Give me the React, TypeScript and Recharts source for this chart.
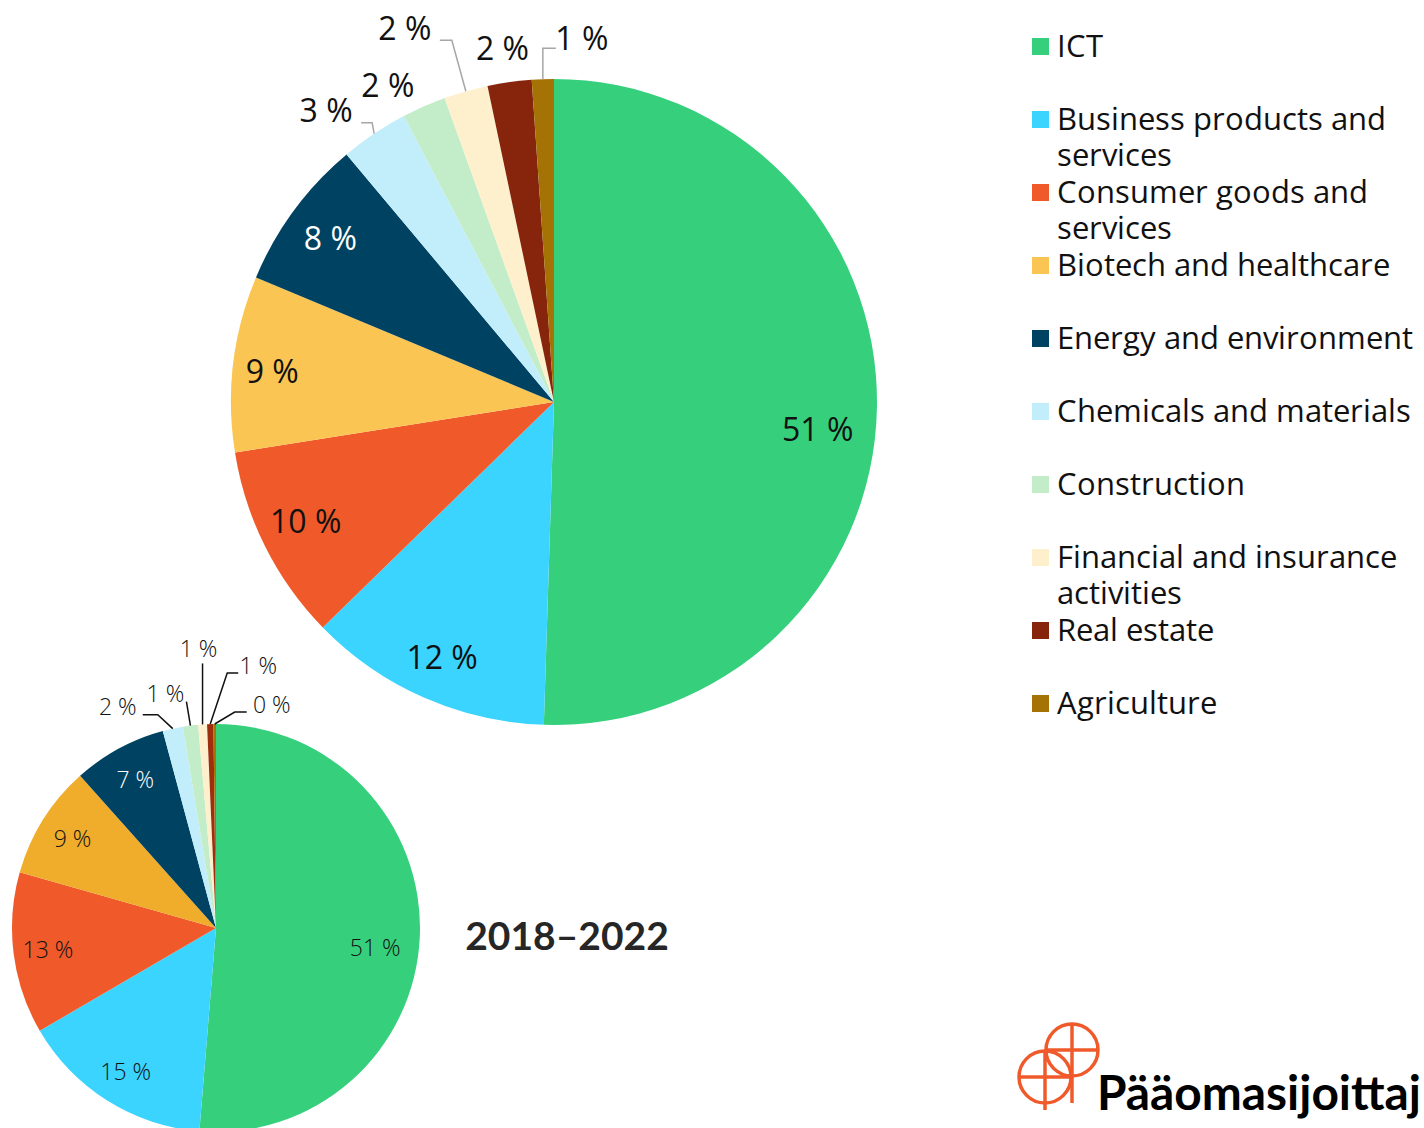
import React from 'react';
import { PieChart, Pie, Cell } from 'recharts';

// ---- Data ----
const categories = [
  'ICT',
  'Business products and services',
  'Consumer goods and services',
  'Biotech and healthcare',
  'Energy and environment',
  'Chemicals and materials',
  'Construction',
  'Financial and insurance activities',
  'Real estate',
  'Agriculture',
];
const valuesLatest = [50.5, 12.2, 9.8, 8.8, 7.6, 3.4, 2.2, 2.2, 2.2, 1.1];
const values2018to2022 = [51.3, 15.3, 12.8, 9.0, 7.4, 1.6, 1.2, 0.7, 0.5, 0.2];
const periodTitle = '2018–2022';
const brandText = 'Pääomasijoittaj';

// ---- Styles ----
const colorsLatest = ['#36D07D', '#3AD4FF', '#F05A2B', '#FBC553', '#004262', '#C2EEFB', '#C3EDC8', '#FEF0CD', '#86250C', '#A47205'];
const colorsPeriod = ['#36D07D', '#3AD4FF', '#F05A2B', '#F0AC2B', '#004262', '#C2EEFB', '#C3EDC8', '#FEF0CD', '#9E2F0E', '#A47205'];
const FONT = '"Open Sans", Lato, sans-serif';
const LEGEND_FONT = '"LegendSans", "Open Sans", Lato, sans-serif';
const TITLE_FONT = 'Lato, "Open Sans", sans-serif';
const RAD = Math.PI / 180;

const globalCss = `
body{margin:0;}
@font-face{
  font-family:"LegendSans";
  src: local("Open Sans Regular"), local("OpenSans-Regular"), local("Open Sans");
  ascent-override: 80%;
  descent-override: 22%;
  line-gap-override: 0%;
}
`;

type Callout = { pts: [number, number][]; text: [number, number] };
const calloutsLatest: (Callout | null)[] = [
  null, null, null, null, null,
  { pts: [[0, 0], [-2, -11], [-13, -11]], text: [-48, -24] },
  { pts: [], text: [-36, -22] },
  { pts: [[0, 0], [-14, -51], [-26, -51]], text: [-61, -64] },
  { pts: [], text: [-7, -35] },
  { pts: [[0, 0], [0, -31], [13, -31]], text: [39, -42] },
];
const insideNudgeLatest: [number, number][] = [[-14, 22], [0, 0], [0, -6], [-6, 2], [0, 0]];
const calloutsPeriod: (Callout | null)[] = [
  null, null, null, null, null,
  { pts: [[0, 0], [-15, -14], [-30, -14]], text: [-55, -23] },
  { pts: [[0, 0], [-4, -24]], text: [-25, -33] },
  { pts: [[0, 0], [0, -61]], text: [-4, -76] },
  { pts: [[0, 0], [17, -51], [28, -51]], text: [48, -59] },
  { pts: [[0, 0], [20, -12], [32, -12]], text: [57, -20] },
];
const insideNudgePeriod: [number, number][] = [[-10, 12], [0, 0], [0, 0], [0, 0], [0, 0]];

function makeLabel(o: {
  insideFactor: number;
  fontSize: number;
  fontWeight: number;
  lineColor: string;
  callouts: (Callout | null)[];
  nudge: [number, number][];
}) {
  return (props: any) => {
    const { cx, cy, midAngle, outerRadius, index } = props;
    const value = props.value ?? props.payload?.value;
    const text = `${Math.round(value)} %`;
    const cos = Math.cos(-midAngle * RAD);
    const sin = Math.sin(-midAngle * RAD);
    const c = o.callouts[index];
    const textColor = index === 4 ? '#ffffff' : '#111111';
    if (!c) {
      const r = outerRadius * o.insideFactor;
      const n = o.nudge[index] || [0, 0];
      return (
        <text
          key={`l-${index}`}
          x={cx + r * cos + n[0]}
          y={cy + r * sin + n[1]}
          textAnchor="middle"
          dominantBaseline="central"
          fill={textColor}
          fontSize={o.fontSize}
          fontWeight={o.fontWeight}
          fontFamily={FONT}
        >
          {text}
        </text>
      );
    }
    const ax = cx + outerRadius * cos;
    const ay = cy + outerRadius * sin;
    const d = c.pts.map((p, i) => `${i === 0 ? 'M' : 'L'}${ax + p[0]},${ay + p[1]}`).join(' ');
    return (
      <g key={`l-${index}`}>
        {c.pts.length > 1 && <path d={d} stroke={o.lineColor} strokeWidth={1.5} fill="none" />}
        <text
          x={ax + c.text[0]}
          y={ay + c.text[1]}
          textAnchor="middle"
          dominantBaseline="central"
          fill="#111111"
          fontSize={o.fontSize}
          fontWeight={o.fontWeight}
          fontFamily={FONT}
        >
          {text}
        </text>
      </g>
    );
  };
}

const dataLatest = categories.map((name, i) => ({ name, value: valuesLatest[i] }));
const dataPeriod = categories.map((name, i) => ({ name, value: values2018to2022[i] }));

function Legend() {
  return (
    <div style={{ position: 'absolute', left: 1032, top: 0, width: 392, fontFamily: LEGEND_FONT }}>
      {categories.map((name, i) => (
        <div key={name} style={{ position: 'absolute', left: 0, top: 28 + i * 73, width: 392, height: 72 }}>
          <div style={{ position: 'absolute', left: 0, top: 10, width: 17, height: 17, background: colorsLatest[i] }} />
          <div
            style={{
              position: 'absolute',
              left: 25,
              top: 3,
              width: 372,
              fontSize: 30.5,
              lineHeight: '36px',
              color: '#111111',
            }}
          >
            {name}
          </div>
        </div>
      ))}
    </div>
  );
}

function Logo() {
  const c = '#F05A2B';
  return (
    <div style={{ position: 'absolute', left: 1010, top: 1015, width: 414, height: 113, overflow: 'hidden' }}>
      <svg width={414} height={113} style={{ position: 'absolute', left: 0, top: 0 }}>
        <g stroke={c} strokeWidth={3.5} fill="none">
          <circle cx={62} cy={35} r={26} />
          <circle cx={35} cy={62} r={26} />
          <line x1={35} y1={35} x2={35} y2={95} />
          <line x1={62} y1={9} x2={62} y2={88} />
          <line x1={35} y1={35} x2={88} y2={35} />
          <line x1={9} y1={62} x2={62} y2={62} />
        </g>
        <text
          x={87}
          y={95}
          fontFamily={TITLE_FONT}
          fontWeight={700}
          fontSize={48}
          fill="#000"
          textLength={324}
          lengthAdjust="spacingAndGlyphs"
        >
          {brandText}
        </text>
      </svg>
    </div>
  );
}

export default function App() {
  return (
    <div style={{ position: 'relative', width: 1424, height: 1128, overflow: 'hidden', background: '#fff' }}>
      <style>{globalCss}</style>
      <PieChart
        width={1424}
        height={1128}
        margin={{ top: 0, right: 0, bottom: 0, left: 0 }}
        style={{ position: 'absolute', left: 0, top: 0 }}
      >
        <Pie
          data={dataLatest}
          dataKey="value"
          nameKey="name"
          cx={554}
          cy={402}
          outerRadius={323}
          startAngle={90}
          endAngle={-270}
          stroke="none"
          labelLine={false}
          label={makeLabel({ insideFactor: 0.86, fontSize: 32, fontWeight: 400, lineColor: '#A6A6A6', callouts: calloutsLatest, nudge: insideNudgeLatest })}
          isAnimationActive={false}
        >
          {dataLatest.map((d, i) => (
            <Cell key={d.name} fill={colorsLatest[i]} />
          ))}
        </Pie>
        <Pie
          data={dataPeriod}
          dataKey="value"
          nameKey="name"
          cx={216}
          cy={928}
          outerRadius={204}
          startAngle={90}
          endAngle={-270}
          stroke="none"
          labelLine={false}
          label={makeLabel({ insideFactor: 0.83, fontSize: 23, fontWeight: 300, lineColor: '#111111', callouts: calloutsPeriod, nudge: insideNudgePeriod })}
          isAnimationActive={false}
        >
          {dataPeriod.map((d, i) => (
            <Cell key={d.name} fill={colorsPeriod[i]} />
          ))}
        </Pie>
      </PieChart>
      <div
        style={{
          position: 'absolute',
          left: 567,
          top: 935,
          transform: 'translate(-50%, -50%)',
          fontFamily: TITLE_FONT,
          fontWeight: 700,
          fontSize: 39,
          color: '#262626',
          whiteSpace: 'nowrap',
        }}
      >
        {periodTitle}
      </div>
      <Legend />
      <Logo />
    </div>
  );
}
